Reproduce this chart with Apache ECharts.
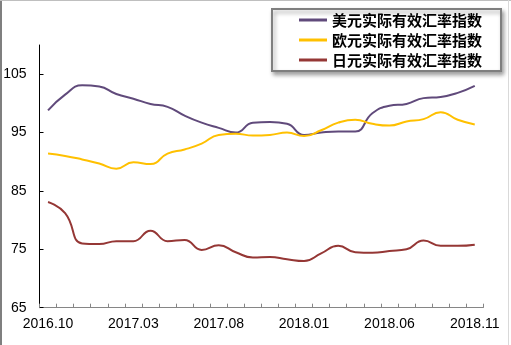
<!DOCTYPE html>
<html>
<head>
<meta charset="utf-8">
<script src="https://cdn.jsdelivr.net/npm/echarts@6/dist/echarts.min.js"></script>
<style>
  html, body { margin: 0; padding: 0; background: #fff; }
  #chart { width: 511px; height: 345px; }
</style>
</head>
<body>
<div id="chart"></div>
<script>
// Months 2016.10 – 2018.11
const categories = [
  '2016.10','2016.11','2016.12','2017.01','2017.02','2017.03','2017.04','2017.05','2017.06',
  '2017.07','2017.08','2017.09','2017.10','2017.11','2017.12','2018.01','2018.02','2018.03',
  '2018.04','2018.05','2018.06','2018.07','2018.08','2018.09','2018.10','2018.11'
];

// Real effective exchange rate indices
const usdIndex = [98.8, 101.5, 103.1, 102.9, 101.6, 100.8, 99.9, 99.4, 97.9, 96.7, 95.8, 95.0, 96.7,
                  96.8, 96.5, 94.6, 95.0, 95.2, 95.2, 98.3, 99.6, 99.9, 100.9, 101.1, 101.8, 103.0];
const eurIndex = [91.4, 91.0, 90.4, 89.7, 88.8, 89.9, 89.6, 91.4, 92.1, 93.1, 94.6, 94.8, 94.5,
                  94.6, 95.0, 94.4, 95.4, 96.7, 97.2, 96.5, 96.2, 96.9, 97.3, 98.5, 97.2, 96.4];
const jpyIndex = [83.1, 81.2, 76.0, 75.9, 76.4, 76.4, 78.2, 76.4, 76.6, 74.9, 75.7, 74.5, 73.6,
                  73.7, 73.3, 73.0, 74.3, 75.6, 74.5, 74.4, 74.7, 75.0, 76.5, 75.6, 75.6, 75.8];

const yTicks = [65, 75, 85, 95, 105];

const seriesNames = ['美元实际有效汇率指数', '欧元实际有效汇率指数', '日元实际有效汇率指数'];
const seriesColors = ['#604A7B', '#FFC000', '#953735'];
const seriesData = [usdIndex, eurIndex, jpyIndex];

const chart = echarts.init(document.getElementById('chart'), null, { renderer: 'canvas' });

chart.setOption({
  animation: false,
  backgroundColor: '#ffffff',
  grid: { left: 39.5, right: 27.7, top: 45, bottom: 37.3, containLabel: false },
  legend: {
    orient: 'vertical',
    left: 272,
    top: 9,
    padding: [3, 19, 3, 27],
    itemWidth: 28,
    itemHeight: 3,
    itemGap: 4,
    icon: 'rect',
    backgroundColor: '#ffffff',
    borderColor: '#7f7f7f',
    borderWidth: 2,
    shadowColor: 'rgba(0,0,0,0.35)',
    shadowBlur: 4,
    shadowOffsetX: 2,
    shadowOffsetY: 3,
    textStyle: {
      fontFamily: '"Noto Sans CJK SC", sans-serif',
      fontSize: 15,
      fontWeight: 'bold',
      color: '#000',
      lineHeight: 16
    },
    data: seriesNames
  },
  xAxis: {
    type: 'category',
    data: categories,
    boundaryGap: true,
    axisLine: { lineStyle: { color: '#868686', width: 1 } },
    axisTick: { show: true, inside: true, length: 4, interval: 0, lineStyle: { color: '#868686' } },
    axisLabel: {
      interval: 4,
      margin: 9,
      fontFamily: '"Liberation Sans", Arial, sans-serif',
      fontSize: 14,
      color: '#000'
    },
    splitLine: { show: false }
  },
  yAxis: {
    type: 'value',
    min: 65,
    max: 110,
    interval: 10,
    axisLine: { show: true, lineStyle: { color: '#000', width: 1 } },
    axisTick: { show: true, inside: true, length: 4, customValues: yTicks, lineStyle: { color: '#000' } },
    axisLabel: {
      customValues: yTicks,
      margin: 13,
      fontFamily: '"Liberation Sans", Arial, sans-serif',
      fontSize: 14,
      color: '#000'
    },
    splitLine: { show: false }
  },
  series: seriesNames.map((name, i) => ({
    name: name,
    type: 'line',
    data: seriesData[i],
    smooth: 0.5,
    symbol: 'none',
    lineStyle: { color: seriesColors[i], width: 2 },
    itemStyle: { color: seriesColors[i] }
  })),
  graphic: [
    // sheet frame: left border and faint cell edges
    { type: 'rect', left: 0, top: 0, shape: { width: 2, height: 345 }, style: { fill: '#7f7f7f' }, silent: true },
    { type: 'line', shape: { x1: 0, y1: 0.5, x2: 511, y2: 0.5 }, style: { stroke: '#bfbfbf', lineWidth: 1 }, silent: true },
    { type: 'line', shape: { x1: 508.5, y1: 0, x2: 508.5, y2: 345 }, style: { stroke: '#d9d9d9', lineWidth: 1 }, silent: true }
  ]
});
</script>
</body>
</html>
